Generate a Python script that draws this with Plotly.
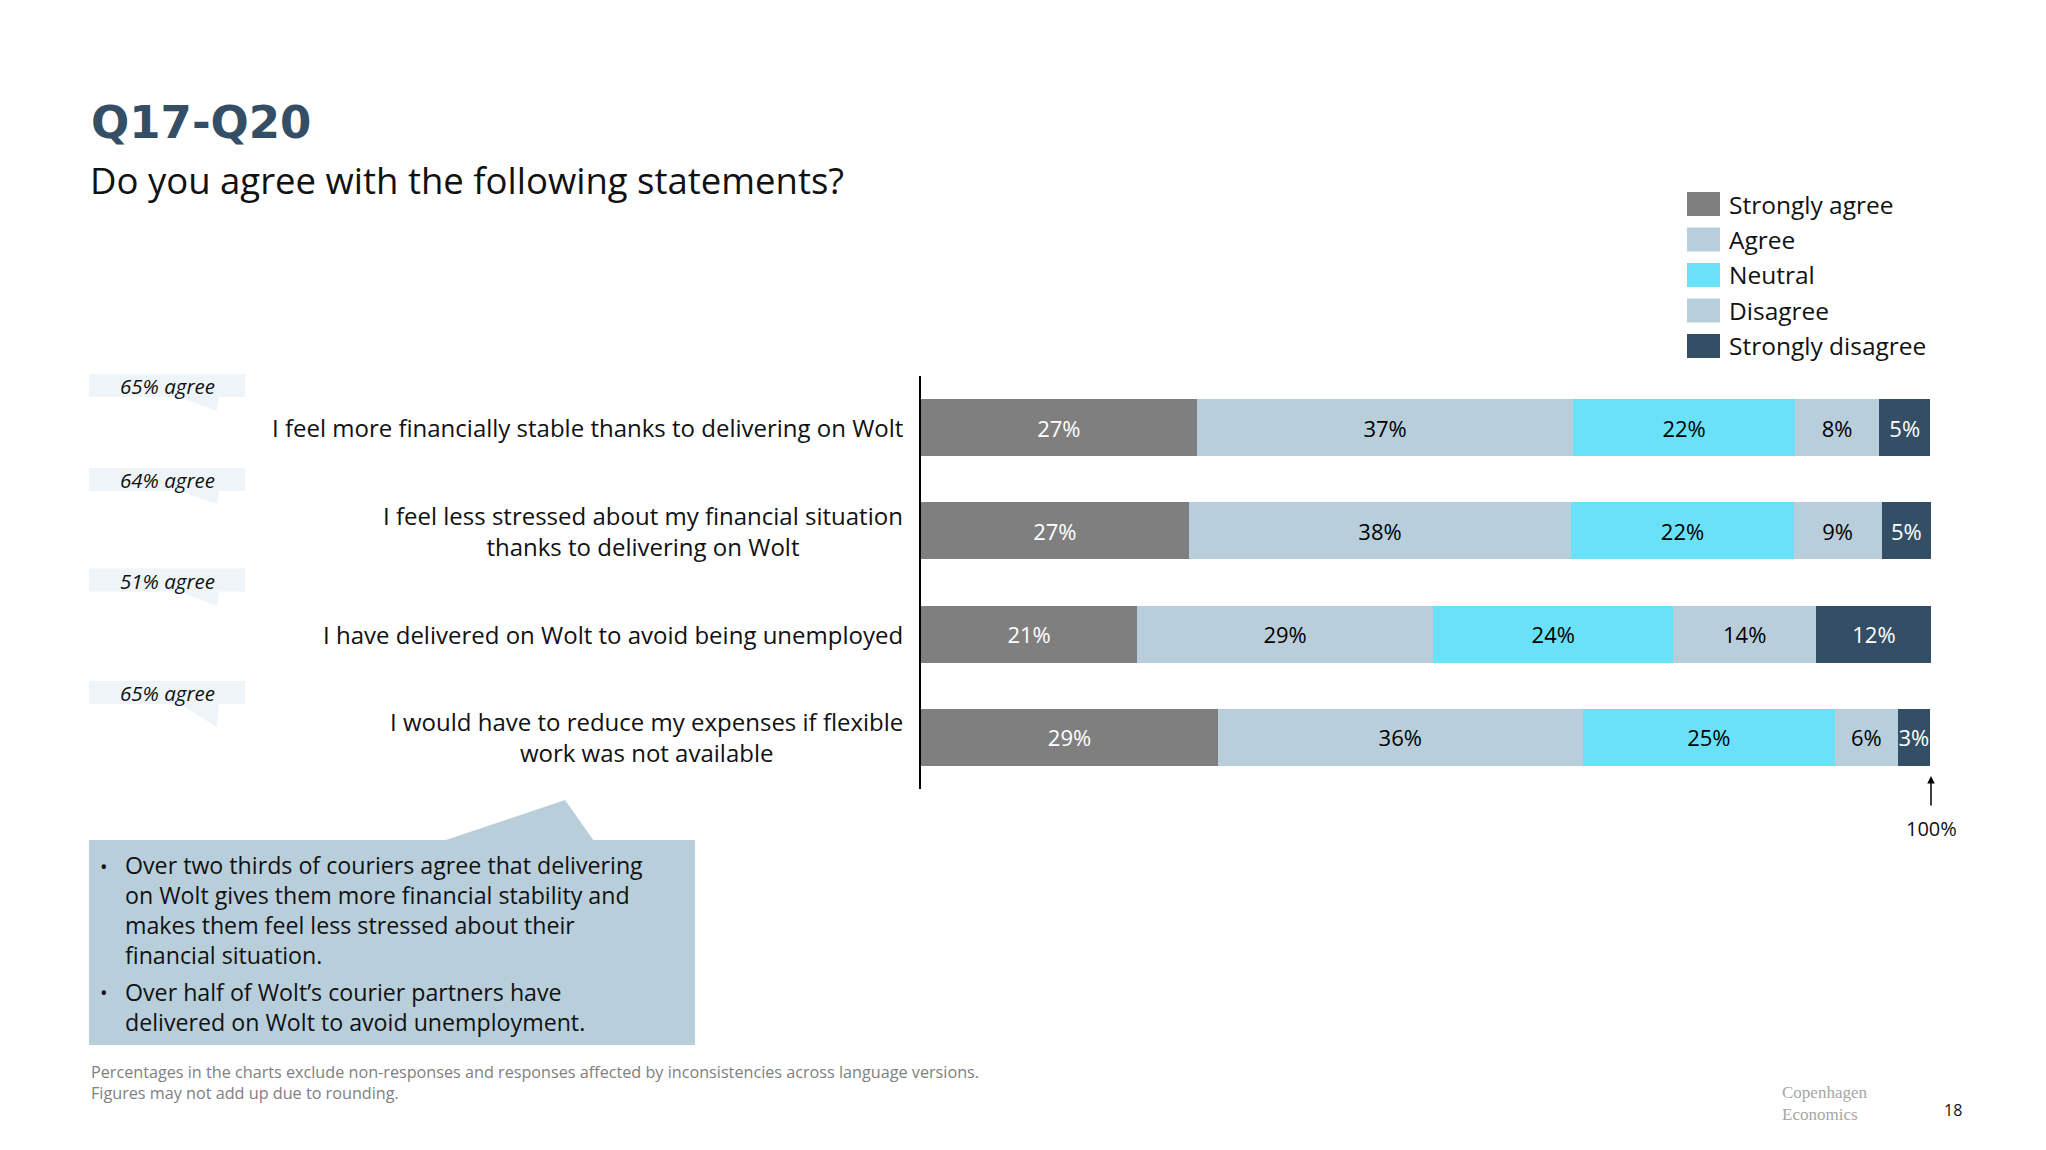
import plotly.graph_objects as go

W, H = 2046, 1150

# ---- data ----
statements = [
    "I feel more financially stable thanks to delivering on Wolt",
    "I feel less stressed about my financial situation<br>thanks to delivering on Wolt",
    "I have delivered on Wolt to avoid being unemployed",
    "I would have to reduce my expenses if flexible<br>work was not available",
]
agree_share = [65, 64, 51, 65]

answers = ["Strongly agree", "Agree", "Neutral", "Disagree", "Strongly disagree"]
colors = ["#7f7f7f", "#b8cfdb", "#69e1f9", "#b8cfdb", "#344e65"]
text_colors = ["white", "black", "black", "black", "white"]

# bar lengths (%), labels as printed
strongly_agree = [27.3, 26.5, 21.4, 29.4]
agree = [37.3, 37.9, 29.3, 36.1]
neutral = [21.9, 22.0, 23.8, 25.0]
disagree = [8.4, 8.7, 14.1, 6.2]
strongly_disagree = [5.0, 4.9, 11.5, 3.2]

strongly_agree_lbl = [27, 27, 21, 29]
agree_lbl = [37, 38, 29, 36]
neutral_lbl = [22, 22, 24, 25]
disagree_lbl = [8, 9, 14, 6]
strongly_disagree_lbl = [5, 5, 12, 3]

series = [strongly_agree, agree, neutral, disagree, strongly_disagree]
labels = [strongly_agree_lbl, agree_lbl, neutral_lbl, disagree_lbl, strongly_disagree_lbl]

bullet_1 = [
    "Over two thirds of couriers agree that delivering",
    "on Wolt gives them more financial stability and",
    "makes them feel less stressed about their",
    "financial situation.",
]
bullet_2 = [
    "Over half of Wolt’s courier partners have",
    "delivered on Wolt to avoid unemployment.",
]

FONT = "Open Sans"


def px(x):
    return x / W


def py(y):
    return 1 - y / H


fig = go.Figure()

for name, vals, lbl, col, tcol in zip(answers, series, labels, colors, text_colors):
    fig.add_trace(go.Bar(
        y=statements, x=vals, orientation="h", name=name,
        marker=dict(color=col, line=dict(width=0)),
        text=[f"{v}%" for v in lbl], textposition="inside",
        insidetextanchor="middle", constraintext="none", textangle=0,
        textfont=dict(family=FONT, size=22, color=tcol),
        showlegend=False, hoverinfo="skip",
    ))

shapes = []
ann = []

# statement labels on the left of the axis
for s in statements:
    ann.append(dict(x=px(905), xref="paper", y=s, yref="y", text=s,
                    xanchor="right", yanchor="middle", align="center",
                    showarrow=False, font=dict(family=FONT, size=24, color="#111111")))

# "xx% agree" speech bubbles
box_tops = [374, 468, 568.5, 681]
tail_tips = [411, 504, 606, 727]
for share, top, tip in zip(agree_share, box_tops, tail_tips):
    bot = top + 23
    shapes.append(dict(type="rect", xref="paper", yref="paper",
                       x0=px(89), x1=px(245), y0=py(bot), y1=py(top),
                       fillcolor="#eef4f7", line=dict(width=0), layer="below"))
    path = (f"M {px(180)} {py(bot)} L {px(219)} {py(bot)} "
            f"L {px(216.5)} {py(tip)} Z")
    shapes.append(dict(type="path", xref="paper", yref="paper", path=path,
                       fillcolor="#eef4f7", line=dict(width=0), layer="below"))
    ann.append(dict(x=px(167), y=py(top + 12), xref="paper", yref="paper",
                    text=f"<i>{share}% agree</i>", showarrow=False,
                    xanchor="center", yanchor="middle",
                    font=dict(family=FONT, size=20.5, color="#111111")))

# legend drawn by hand (wide swatches like the original)
leg_tops = [192, 227.5, 263, 298.5, 334]
for name, col, top in zip(answers, colors, leg_tops):
    shapes.append(dict(type="rect", xref="paper", yref="paper",
                       x0=px(1687), x1=px(1720), y0=py(top + 24), y1=py(top),
                       fillcolor=col, line=dict(width=0)))
    ann.append(dict(x=px(1727), y=py(top + 12), xref="paper", yref="paper",
                    text=name, showarrow=False, xanchor="left", yanchor="middle",
                    font=dict(family=FONT, size=24.5, color="#111111")))

# key-findings box
shapes.append(dict(type="rect", xref="paper", yref="paper",
                   x0=px(89), x1=px(695), y0=py(1045), y1=py(840),
                   fillcolor="#b8cfdb", line=dict(width=0), layer="below"))
shapes.append(dict(type="path", xref="paper", yref="paper",
                   path=f"M {px(443)} {py(841)} L {px(565)} {py(800)} L {px(594)} {py(841)} Z",
                   fillcolor="#b8cfdb", line=dict(width=0), layer="below"))
for lines, yc, yfirst in zip([bullet_1, bullet_2], [910, 1007], [866, 992]):
    ann.append(dict(x=px(104), y=py(yfirst), xref="paper", yref="paper", text="•",
                    showarrow=False, xanchor="center", yanchor="middle",
                    font=dict(family=FONT, size=20, color="#111111")))
    ann.append(dict(x=px(123), y=py(yc), xref="paper", yref="paper",
                    text="<br>".join(lines), showarrow=False, xanchor="left",
                    yanchor="middle", align="left",
                    font=dict(family=FONT, size=23.2, color="#111111")))

# 100% marker
ann.append(dict(x=100, xref="x", y=py(776), yref="paper", text="", showarrow=True,
                ax=0, ay=31, arrowhead=2, arrowsize=1, arrowwidth=1.5, arrowcolor="black"))
ann.append(dict(x=100, xref="x", y=py(828), yref="paper", text="100%", showarrow=False,
                xanchor="center", yanchor="middle",
                font=dict(family=FONT, size=20, color="#111111")))

# titles, footnote, logo
ann += [
    dict(x=px(89), y=py(122), xref="paper", yref="paper", text="<b>Q17-Q20</b>",
         showarrow=False, xanchor="left", yanchor="middle",
         font=dict(family="DejaVu Sans", size=45, color="#344e65")),
    dict(x=px(88), y=py(180), xref="paper", yref="paper",
         text="Do you agree with the following statements?",
         showarrow=False, xanchor="left", yanchor="middle",
         font=dict(family=FONT, size=36.5, color="#111111")),
    dict(x=px(89), y=py(1082), xref="paper", yref="paper",
         text="Percentages in the charts exclude non-responses and responses affected by "
              "inconsistencies across language versions.<br>Figures may not add up due to rounding.",
         showarrow=False, xanchor="left", yanchor="middle", align="left",
         font=dict(family=FONT, size=16.2, color="#808080")),
    dict(x=px(1780), y=py(1103), xref="paper", yref="paper",
         text="Copenhagen<br>Economics", showarrow=False, xanchor="left",
         yanchor="middle", align="left",
         font=dict(family="Liberation Serif", size=17, color="#a6a6a6")),
    dict(x=px(1953), y=py(1110), xref="paper", yref="paper", text="18",
         showarrow=False, xanchor="center", yanchor="middle",
         font=dict(family=FONT, size=16, color="#111111")),
]

fig.update_layout(
    width=W, height=H,
    margin=dict(l=0, r=0, t=0, b=0),
    paper_bgcolor="white", plot_bgcolor="white",
    barmode="stack", bargap=0.448,
    xaxis=dict(domain=[px(921), px(1931)], range=[0, 100], visible=False, fixedrange=True),
    yaxis=dict(domain=[py(789), py(376)], categoryorder="array",
               categoryarray=statements, autorange="reversed",
               showticklabels=False, ticks="", showgrid=False, zeroline=False,
               showline=True, linecolor="black", linewidth=1.5),
    shapes=shapes,
    annotations=ann,
    font=dict(family=FONT),
)

fig.write_html("out.html", config={"displayModeBar": False},
               post_script="document.body.style.margin='0px';")
